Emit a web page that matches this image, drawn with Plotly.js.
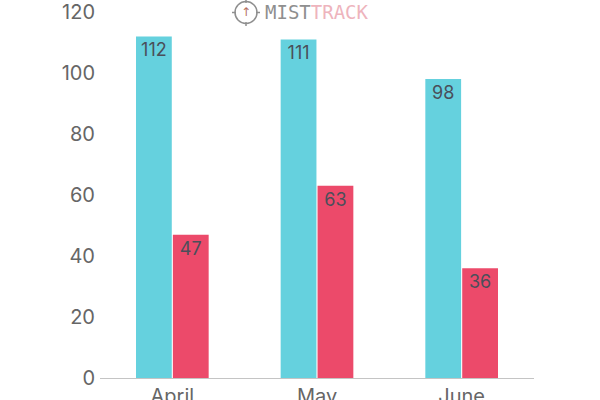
<!DOCTYPE html>
<html><head><meta charset="utf-8">
<script src="https://cdn.plot.ly/plotly-3.0.1.min.js"></script>
<style>html,body{margin:0;padding:0;background:#fff}</style></head>
<body><div id="c" style="width:600px;height:400px"></div>
<script>
var months = ["April","May","June"];
var seriesA = [112,111,98];
var seriesB = [47,63,36];
var tickVals = [0,20,40,60,80,100,120];
var font = "Inter, 'Open Sans', sans-serif";
function bar(vals,color){return {type:"bar",x:months,y:vals,text:vals.map(String),textposition:"inside",insidetextanchor:"end",
 textangle:0,textfont:{family:font,size:18,color:"#4a4f5a"},marker:{color:color,line:{width:0}},hoverinfo:"none",cliponaxis:false};}
var W=600,H=400,ml=100,mr=66,mt=12,mb=22;
function px(x){return (x-ml)/(W-ml-mr);}
function py(y){return 1-(y-mt)/(H-mt-mb);}
var logoGrey="#8f8f8f";
function seg(x0,y0,x1,y1){return {type:"line",xref:"paper",yref:"paper",x0:px(x0),y0:py(y0),x1:px(x1),y1:py(y1),line:{color:logoGrey,width:1.5}};}
Plotly.newPlot("c",[bar(seriesA,"#65d1de"),bar(seriesB,"#ec4a6a")],{
 width:W,height:H,showlegend:false,paper_bgcolor:"#fff",plot_bgcolor:"#fff",
 margin:{l:ml,r:mr,t:mt,b:mb},barmode:"group",bargap:0.49,bargroupgap:0.03,
 font:{family:font,color:"#666"},
 xaxis:{type:"category",showgrid:false,showline:true,linecolor:"#c4c4c4",linewidth:1,ticks:"",tickfont:{size:20,color:"#666",family:font}},
 yaxis:{range:[0,120.01],tickvals:tickVals,showgrid:false,zeroline:false,showline:false,ticks:"",ticklabelstandoff:4,tickfont:{size:20,color:"#666",family:font}},
 shapes:[
  {type:"circle",xref:"paper",yref:"paper",x0:px(235),x1:px(257),y0:py(1.5),y1:py(23.5),line:{color:logoGrey,width:1.5}},
  seg(246,-1,246,3),seg(246,22,246,26),seg(232,12.5,236,12.5),seg(256,12.5,260,12.5)
 ],
 annotations:[{xref:"paper",yref:"paper",x:px(317),y:py(12.5),xanchor:"center",yanchor:"middle",showarrow:false,
  text:"MIST<span style='color:#eeb4bd'>TRACK</span>",font:{size:19,color:logoGrey,family:"'DejaVu Sans Mono', monospace"}},
  {xref:"paper",yref:"paper",x:px(246),y:py(12.5),xanchor:"center",yanchor:"middle",showarrow:false,
  text:"↑",font:{size:12,color:"#b5705f",family:"'DejaVu Sans', sans-serif"}}]
},{displayModeBar:false,staticPlot:true});
</script></body></html>
